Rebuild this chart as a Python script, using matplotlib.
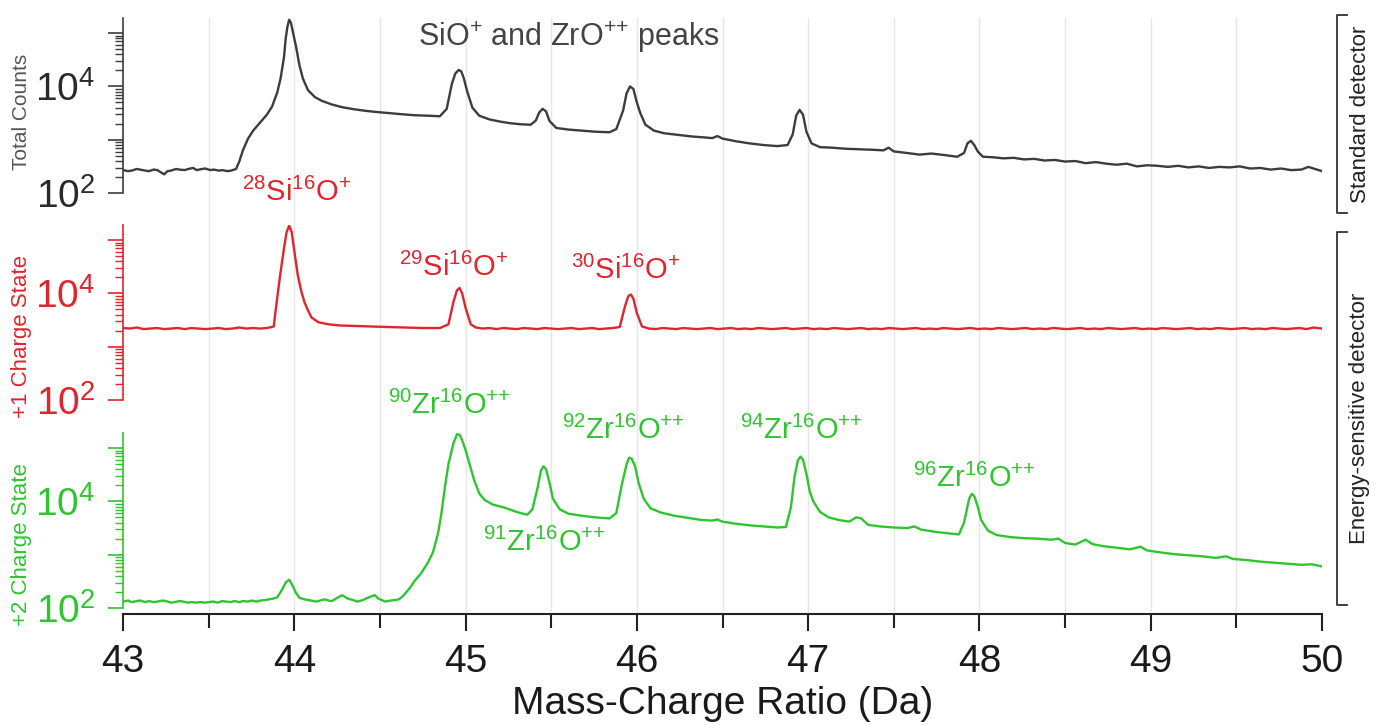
import matplotlib
matplotlib.use('Agg')
import matplotlib.pyplot as plt
from matplotlib.ticker import FixedLocator, FuncFormatter, NullFormatter, LogLocator, MultipleLocator
from matplotlib.lines import Line2D

plt.rcParams['font.family'] = ['Liberation Sans', 'DejaVu Sans']
plt.rcParams['mathtext.fontset'] = 'custom'
plt.rcParams['mathtext.rm'] = 'Liberation Sans'
plt.rcParams['mathtext.it'] = 'Liberation Sans:italic'
plt.rcParams['mathtext.bf'] = 'Liberation Sans:bold'

# ---------------- data: (mass-charge ratio, counts) ----------------
std_points = [
    (43.00, 269), (43.03, 257), (43.05, 263), (43.08, 282), (43.10, 275), (43.13, 263), (43.15, 257),
    (43.18, 275), (43.20, 269), (43.24, 224), (43.26, 257), (43.28, 263), (43.31, 282), (43.33, 275),
    (43.36, 269), (43.38, 282), (43.41, 295), (43.43, 269), (43.46, 282), (43.48, 288), (43.51, 269),
    (43.53, 275), (43.56, 263), (43.58, 269), (43.61, 257), (43.63, 263), (43.66, 282), (43.68, 398),
    (43.70, 631), (43.73, 1050), (43.76, 1480), (43.80, 2090), (43.84, 2950), (43.87, 4170), (43.90, 7590),
    (43.92, 14100), (43.94, 35500), (43.95, 79400), (43.96, 132000), (43.97, 178000), (43.98, 158000),
    (43.99, 112000), (44.01, 56200), (44.03, 25100), (44.05, 14100), (44.08, 8510), (44.12, 6310),
    (44.16, 5370), (44.22, 4570), (44.28, 4070), (44.35, 3720), (44.42, 3470), (44.48, 3310), (44.55, 3160),
    (44.62, 3020), (44.70, 2880), (44.78, 2820), (44.85, 2750), (44.89, 3800), (44.92, 11200),
    (44.94, 17400), (44.96, 20400), (44.975, 19100), (44.99, 14100), (45.01, 7940), (45.04, 3980),
    (45.08, 2820), (45.14, 2400), (45.20, 2190), (45.26, 2040), (45.32, 1950), (45.38, 1910), (45.41, 2290),
    (45.43, 3240), (45.45, 3800), (45.47, 3390), (45.49, 2240), (45.53, 1660), (45.60, 1550), (45.68, 1480),
    (45.76, 1410), (45.84, 1380), (45.88, 1580), (45.92, 3550), (45.94, 7410), (45.96, 10000),
    (45.98, 8910), (46.00, 5010), (46.02, 3160), (46.05, 1910), (46.10, 1480), (46.16, 1320), (46.24, 1230),
    (46.32, 1150), (46.40, 1100), (46.44, 1070), (46.47, 1170), (46.50, 1050), (46.58, 933), (46.66, 851),
    (46.74, 794), (46.82, 759), (46.88, 794), (46.91, 1260), (46.93, 2820), (46.95, 3630), (46.97, 2950),
    (46.99, 1410), (47.02, 851), (47.07, 724), (47.14, 708), (47.22, 676), (47.30, 661), (47.38, 646),
    (47.44, 631), (47.47, 708), (47.50, 603), (47.58, 562), (47.65, 525), (47.72, 550), (47.80, 513),
    (47.87, 479), (47.91, 562), (47.93, 851), (47.95, 955), (47.97, 794), (47.99, 603), (48.02, 479),
    (48.08, 468), (48.14, 447), (48.20, 457), (48.26, 427), (48.32, 437), (48.38, 407), (48.44, 417),
    (48.50, 389), (48.56, 398), (48.62, 363), (48.68, 380), (48.74, 355), (48.80, 339), (48.86, 355),
    (48.92, 316), (48.98, 331), (49.04, 324), (49.10, 309), (49.16, 324), (49.22, 302), (49.28, 316),
    (49.34, 295), (49.40, 309), (49.46, 302), (49.52, 316), (49.58, 288), (49.64, 295), (49.70, 275),
    (49.76, 288), (49.82, 269), (49.88, 275), (49.92, 309), (49.96, 282), (50.00, 257)]

plus1_points = [
    (43.00, 2240), (43.04, 2190), (43.08, 2290), (43.12, 2140), (43.16, 2190), (43.20, 2240), (43.24, 2140),
    (43.28, 2190), (43.32, 2240), (43.36, 2140), (43.40, 2240), (43.44, 2190), (43.48, 2140), (43.52, 2190),
    (43.56, 2240), (43.60, 2140), (43.64, 2190), (43.68, 2290), (43.72, 2190), (43.76, 2240), (43.80, 2190),
    (43.84, 2240), (43.88, 2400), (43.90, 8130), (43.92, 25100), (43.94, 70800), (43.955, 141000),
    (43.97, 186000), (43.985, 141000), (44.00, 63100), (44.02, 22400), (44.04, 11200), (44.06, 6760),
    (44.08, 4790), (44.10, 3550), (44.14, 2880), (44.20, 2630), (44.26, 2510), (44.35, 2450), (44.45, 2400),
    (44.55, 2340), (44.65, 2290), (44.75, 2240), (44.85, 2240), (44.90, 2630), (44.93, 7080), (44.95, 11500),
    (44.965, 12600), (44.98, 10000), (45.00, 5370), (45.03, 2630), (45.06, 2290), (45.10, 2190),
    (45.14, 2240), (45.18, 2140), (45.22, 2240), (45.26, 2190), (45.30, 2140), (45.34, 2240), (45.38, 2190),
    (45.42, 2140), (45.46, 2240), (45.50, 2190), (45.54, 2140), (45.58, 2190), (45.62, 2240), (45.66, 2140),
    (45.70, 2190), (45.74, 2240), (45.78, 2140), (45.82, 2190), (45.86, 2240), (45.90, 2340), (45.93, 5620),
    (45.95, 8910), (45.965, 9550), (45.98, 7940), (46.00, 4270), (46.03, 2400), (46.07, 2190), (46.11, 2140),
    (46.15, 2240), (46.19, 2190), (46.23, 2140), (46.27, 2240), (46.31, 2190), (46.35, 2140), (46.39, 2190),
    (46.43, 2240), (46.47, 2140), (46.51, 2190), (46.55, 2240), (46.59, 2140), (46.63, 2190), (46.67, 2140),
    (46.71, 2240), (46.75, 2190), (46.79, 2140), (46.83, 2190), (46.87, 2240), (46.91, 2140), (46.95, 2190),
    (46.99, 2240), (47.03, 2140), (47.07, 2190), (47.11, 2140), (47.15, 2240), (47.19, 2190), (47.23, 2140),
    (47.27, 2190), (47.31, 2240), (47.35, 2140), (47.39, 2190), (47.43, 2140), (47.47, 2240), (47.51, 2190),
    (47.55, 2140), (47.59, 2190), (47.63, 2240), (47.67, 2140), (47.71, 2190), (47.75, 2140), (47.79, 2240),
    (47.83, 2190), (47.87, 2140), (47.91, 2190), (47.95, 2240), (47.99, 2140), (48.03, 2190), (48.07, 2140),
    (48.11, 2240), (48.15, 2190), (48.19, 2140), (48.23, 2190), (48.27, 2240), (48.31, 2140), (48.35, 2190),
    (48.39, 2140), (48.43, 2240), (48.47, 2190), (48.51, 2140), (48.55, 2190), (48.59, 2240), (48.63, 2140),
    (48.67, 2190), (48.71, 2140), (48.75, 2240), (48.79, 2190), (48.83, 2140), (48.87, 2190), (48.91, 2240),
    (48.95, 2140), (48.99, 2190), (49.03, 2140), (49.07, 2240), (49.11, 2190), (49.15, 2140), (49.19, 2190),
    (49.23, 2240), (49.27, 2140), (49.31, 2190), (49.35, 2140), (49.39, 2240), (49.43, 2190), (49.47, 2140),
    (49.51, 2190), (49.55, 2240), (49.59, 2140), (49.63, 2190), (49.67, 2140), (49.71, 2240), (49.75, 2190),
    (49.79, 2140), (49.83, 2190), (49.87, 2240), (49.91, 2140), (49.95, 2290), (50.00, 2190)]

plus2_points = [
    (43.00, 132), (43.03, 138), (43.05, 129), (43.08, 135), (43.10, 138), (43.13, 129), (43.15, 135),
    (43.18, 129), (43.20, 132), (43.23, 138), (43.25, 135), (43.28, 126), (43.30, 129), (43.33, 135),
    (43.35, 132), (43.38, 126), (43.40, 129), (43.43, 126), (43.45, 129), (43.48, 126), (43.50, 129),
    (43.53, 132), (43.55, 126), (43.58, 135), (43.60, 132), (43.63, 129), (43.65, 135), (43.68, 129),
    (43.70, 135), (43.73, 132), (43.75, 138), (43.78, 132), (43.80, 138), (43.83, 141), (43.85, 145),
    (43.88, 151), (43.90, 158), (43.93, 224), (43.95, 302), (43.97, 339), (43.99, 263), (44.01, 191),
    (44.03, 155), (44.06, 145), (44.08, 141), (44.11, 135), (44.13, 132), (44.16, 141), (44.18, 145),
    (44.20, 138), (44.22, 135), (44.25, 155), (44.28, 174), (44.31, 151), (44.33, 145), (44.35, 138),
    (44.37, 132), (44.40, 141), (44.42, 151), (44.45, 166), (44.47, 174), (44.49, 151), (44.51, 141),
    (44.53, 132), (44.56, 138), (44.59, 141), (44.61, 145), (44.63, 162), (44.65, 191), (44.68, 251),
    (44.70, 316), (44.74, 447), (44.78, 708), (44.81, 1120), (44.84, 2570), (44.86, 6310), (44.88, 19100),
    (44.90, 50100), (44.93, 126000), (44.95, 182000), (44.965, 178000), (44.98, 141000), (45.00, 91200),
    (45.03, 41700), (45.05, 25100), (45.08, 14100), (45.11, 10700), (45.16, 8710), (45.23, 7590),
    (45.30, 6310), (45.36, 5620), (45.39, 7080), (45.42, 17800), (45.44, 38000), (45.455, 45700),
    (45.47, 40000), (45.49, 22400), (45.51, 11200), (45.55, 7080), (45.60, 5890), (45.68, 5370),
    (45.76, 5010), (45.84, 4790), (45.88, 6030), (45.91, 19100), (45.94, 50100), (45.955, 66100),
    (45.97, 63100), (45.99, 45000), (46.01, 22400), (46.04, 11200), (46.08, 7410), (46.14, 6170),
    (46.22, 5370), (46.30, 4900), (46.38, 4470), (46.44, 4370), (46.47, 4570), (46.50, 4170), (46.58, 3800),
    (46.66, 3550), (46.74, 3390), (46.82, 3240), (46.87, 3310), (46.90, 7940), (46.92, 28200),
    (46.94, 58900), (46.955, 69200), (46.97, 60300), (46.99, 33000), (47.01, 15000), (47.03, 10000),
    (47.07, 6310), (47.12, 5010), (47.18, 4470), (47.24, 4170), (47.28, 5010), (47.31, 4790), (47.35, 3630),
    (47.42, 3390), (47.50, 3240), (47.58, 3160), (47.62, 3390), (47.66, 2950), (47.74, 2690), (47.82, 2510),
    (47.88, 2400), (47.91, 3980), (47.94, 11200), (47.955, 13800), (47.97, 12600), (47.99, 8000),
    (48.01, 4470), (48.05, 2820), (48.10, 2340), (48.18, 2140), (48.26, 2040), (48.34, 2000), (48.42, 1910),
    (48.46, 2000), (48.50, 1660), (48.56, 1550), (48.62, 1910), (48.66, 1580), (48.72, 1450), (48.80, 1350),
    (48.88, 1260), (48.94, 1410), (48.98, 1200), (49.06, 1100), (49.14, 1020), (49.22, 977), (49.30, 933),
    (49.38, 871), (49.44, 933), (49.48, 832), (49.56, 794), (49.64, 741), (49.72, 708), (49.80, 676),
    (49.88, 646), (49.94, 661), (50.00, 603)]

x_ticks = [43, 44, 45, 46, 47, 48, 49, 50]
y_major = [1e2, 1e3, 1e4, 1e5]
y_labels = {1e2: r'$10^{2}$', 1e4: r'$10^{4}$'}

# ---------------- layout ----------------
W, H = 1380, 725
fig = plt.figure(figsize=(13.8, 7.25), dpi=100)


def fx(px):
    return px / W


def fy(py):
    return 1 - py / H


LEFT, RIGHT = 123, 1322
panels = [(18, 193), (225, 400), (433, 608)]
red = '#e3232d'
green = '#2fc52f'
colors = ['#3c3c3c', red, green]
label_colors = ['#2a2a2a', red, green]
series = [std_points, plus1_points, plus2_points]

# background vertical grid spanning all panels
bg = fig.add_axes([fx(LEFT), fy(612), fx(RIGHT) - fx(LEFT), fy(18) - fy(612)], zorder=0)
bg.set_xlim(43, 50)
bg.set_ylim(0, 1)
bg.axis('off')
for g in [43.5, 44, 44.5, 45, 45.5, 46, 46.5, 47, 47.5, 48, 48.5, 49, 49.5]:
    bg.axvline(g, color='#e6e6e6', lw=1.0)

for i, ((top, bot), pts) in enumerate(zip(panels, series)):
    xs = [p[0] for p in pts]
    ys = [p[1] for p in pts]
    ax = fig.add_axes([fx(LEFT), fy(bot), fx(RIGHT) - fx(LEFT), fy(top) - fy(bot)], zorder=2)
    ax.patch.set_alpha(0)
    ax.plot(xs, ys, color=colors[i], lw=1.7, solid_joinstyle='round')
    ax.set_yscale('log')
    ax.set_xlim(43, 50)
    ax.set_ylim(100, 1.92e5)
    for s in ['top', 'right']:
        ax.spines[s].set_visible(False)
    ax.spines['left'].set_color(colors[i])
    ax.spines['left'].set_linewidth(1.2)
    ax.yaxis.set_major_locator(FixedLocator(y_major))
    ax.yaxis.set_major_formatter(FuncFormatter(lambda v, p: y_labels.get(v, '')))
    ax.yaxis.set_minor_locator(LogLocator(base=10, subs=[2, 3, 4, 5, 6, 7, 8, 9], numticks=50))
    ax.yaxis.set_minor_formatter(NullFormatter())
    ax.tick_params(axis='y', which='major', direction='out', length=11, width=1.2,
                   color=colors[i], labelcolor=label_colors[i], labelsize=28, pad=9)
    ax.tick_params(axis='y', which='minor', direction='out', length=6, width=1.0, color=colors[i])
    if i < 2:
        ax.spines['bottom'].set_visible(False)
        ax.tick_params(axis='x', which='both', bottom=False, labelbottom=False)
    else:
        ax.spines['bottom'].set_position(('outward', 4))
        ax.spines['bottom'].set_color('#222222')
        ax.spines['bottom'].set_linewidth(1.5)
        ax.set_xticks(x_ticks)
        ax.xaxis.set_minor_locator(MultipleLocator(0.5))
        ax.tick_params(axis='x', which='major', direction='out', length=12, width=1.5,
                       color='#222222', labelcolor='#1a1a1a', labelsize=28, pad=10)
        ax.tick_params(axis='x', which='minor', direction='out', length=10, width=1.5, color='#222222')
        ax.set_xlabel('Mass-Charge Ratio (Da)', fontsize=28, color='#1a1a1a', labelpad=4)

# y-axis titles
fig.text(fx(22), fy(112), 'Total Counts', rotation=90, ha='center', va='center', fontsize=15, color='#555555')
fig.text(fx(22), fy(337), '+1 Charge State', rotation=90, ha='center', va='center', fontsize=16, color=red)
fig.text(fx(22), fy(545), '+2 Charge State', rotation=90, ha='center', va='center', fontsize=16, color=green)

# annotations
pp = r'^{{+}{+}}'
fig.text(fx(569), fy(37), r'SiO$^{+}$ and ZrO$' + pp + r'$ peaks', ha='center', va='center',
         fontsize=22, color='#444444')
fig.text(fx(297), fy(192), r'$^{28}$Si$^{16}$O$^{+}$', ha='center', va='center', fontsize=21, color=red)
fig.text(fx(454), fy(267), r'$^{29}$Si$^{16}$O$^{+}$', ha='center', va='center', fontsize=21, color=red)
fig.text(fx(626), fy(270), r'$^{30}$Si$^{16}$O$^{+}$', ha='center', va='center', fontsize=21, color=red)
fig.text(fx(449), fy(405), r'$^{90}$Zr$^{16}$O$' + pp + '$', ha='center', va='center', fontsize=21, color=green)
fig.text(fx(623), fy(430), r'$^{92}$Zr$^{16}$O$' + pp + '$', ha='center', va='center', fontsize=21, color=green)
fig.text(fx(801), fy(430), r'$^{94}$Zr$^{16}$O$' + pp + '$', ha='center', va='center', fontsize=21, color=green)
fig.text(fx(974), fy(478), r'$^{96}$Zr$^{16}$O$' + pp + '$', ha='center', va='center', fontsize=21, color=green)
fig.text(fx(544), fy(542), r'$^{91}$Zr$^{16}$O$' + pp + '$', ha='center', va='center', fontsize=21, color=green)


# right-hand brackets
def bracket(y0, y1, label):
    bx = [fx(1347), fx(1337), fx(1337), fx(1347)]
    by = [fy(y0), fy(y0), fy(y1), fy(y1)]
    fig.add_artist(Line2D(bx, by, color='#333333', lw=1.3, transform=fig.transFigure))
    fig.text(fx(1360), fy((y0 + y1) / 2), label, rotation=90, ha='center', va='center',
             fontsize=16, color='#222222')


bracket(15, 213, 'Standard detector')
bracket(232, 605, 'Energy-sensitive detector')

fig.savefig('out.png', dpi=100)
